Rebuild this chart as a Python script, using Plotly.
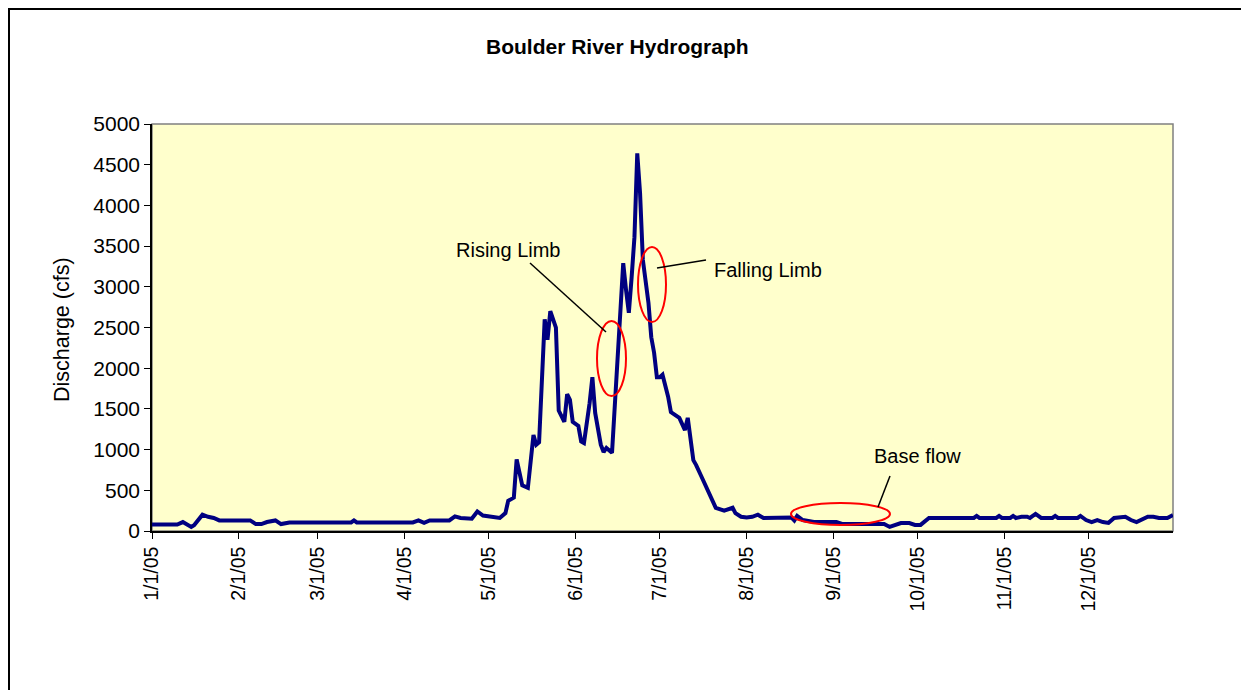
import plotly.graph_objects as go

# ── data ──────────────────────────────────────────────────────────────────────
dates = [
    "2005-01-01", "2005-01-10", "2005-01-12", "2005-01-15", "2005-01-16",
    "2005-01-19", "2005-01-21", "2005-01-23", "2005-01-25", "2005-02-05",
    "2005-02-07", "2005-02-09", "2005-02-11", "2005-02-14", "2005-02-16",
    "2005-02-19", "2005-03-13", "2005-03-14", "2005-03-15", "2005-04-04",
    "2005-04-06", "2005-04-08", "2005-04-10", "2005-04-17", "2005-04-19",
    "2005-04-21", "2005-04-25", "2005-04-27", "2005-04-29", "2005-05-02",
    "2005-05-05", "2005-05-07", "2005-05-08", "2005-05-10", "2005-05-11",
    "2005-05-12", "2005-05-13", "2005-05-15", "2005-05-16", "2005-05-17",
    "2005-05-18", "2005-05-19", "2005-05-21", "2005-05-22", "2005-05-23",
    "2005-05-25", "2005-05-26", "2005-05-28", "2005-05-29", "2005-05-30",
    "2005-05-31", "2005-06-02", "2005-06-03", "2005-06-04", "2005-06-06",
    "2005-06-07", "2005-06-08", "2005-06-10", "2005-06-11", "2005-06-12",
    "2005-06-14", "2005-06-16", "2005-06-18", "2005-06-19", "2005-06-20",
    "2005-06-21", "2005-06-22", "2005-06-23", "2005-06-24", "2005-06-25",
    "2005-06-27", "2005-06-28", "2005-06-29", "2005-06-30", "2005-07-01",
    "2005-07-02", "2005-07-04", "2005-07-05", "2005-07-08", "2005-07-10",
    "2005-07-11", "2005-07-13", "2005-07-14", "2005-07-16", "2005-07-18",
    "2005-07-20", "2005-07-21", "2005-07-24", "2005-07-25", "2005-07-27",
    "2005-07-28", "2005-07-30", "2005-08-01", "2005-08-03", "2005-08-05",
    "2005-08-07", "2005-08-17", "2005-08-18", "2005-08-19", "2005-08-21",
    "2005-08-25", "2005-09-02", "2005-09-04", "2005-09-19", "2005-09-21",
    "2005-09-25", "2005-09-28", "2005-09-30", "2005-10-02", "2005-10-05",
    "2005-10-21", "2005-10-22", "2005-10-23", "2005-10-29", "2005-10-30",
    "2005-10-31", "2005-11-03", "2005-11-04", "2005-11-05", "2005-11-07",
    "2005-11-09", "2005-11-10", "2005-11-12", "2005-11-14", "2005-11-18",
    "2005-11-19", "2005-11-20", "2005-11-27", "2005-11-28", "2005-11-30",
    "2005-12-02", "2005-12-04", "2005-12-06", "2005-12-08", "2005-12-10",
    "2005-12-14", "2005-12-16", "2005-12-18", "2005-12-22", "2005-12-24",
    "2005-12-26", "2005-12-29", "2005-12-31",
]
discharge = [
    80, 80, 110, 50, 70,
    200, 175, 160, 130, 130,
    85, 85, 110, 130, 85,
    105, 105, 130, 105, 105,
    130, 100, 130, 130, 180,
    160, 150, 240, 190, 175,
    160, 220, 370, 410, 880,
    720, 560, 530, 830, 1180,
    1060, 1090, 2600, 2350, 2700,
    2500, 1480, 1340, 1680, 1610,
    1340, 1290, 1100, 1080, 1570,
    1890, 1450, 1060, 970, 1020,
    960, 2060, 3290, 2960, 2680,
    3120, 3610, 4640, 4150, 3330,
    2800, 2380, 2190, 1890, 1890,
    1920, 1650, 1460, 1390, 1240,
    1390, 870, 810, 660, 500,
    360, 285, 250, 260, 285,
    220, 175, 165, 175, 200,
    160, 165, 130, 185, 135,
    110, 110, 86, 86, 50,
    98, 98, 75, 75, 160,
    160, 185, 160, 160, 185,
    160, 160, 185, 160, 175,
    175, 160, 210, 160, 160,
    185, 160, 160, 185, 135,
    110, 135, 110, 100, 160,
    175, 135, 110, 175, 175,
    160, 160, 195,
]
month_ticks = [f"2005-{m:02d}-01" for m in range(1, 13)]
y_ticks = list(range(0, 5001, 500))

FONT = "Liberation Sans, Arial, sans-serif"
OFF = 8                              # page body margin
W, H = 1249 - 2 * OFF, 698 - 2 * OFF
L, R, T, B = 152, 1173, 124, 531     # plot-area box, screen pixels


def px(x):
    return (x - L) / (R - L)


def py(y):
    return (B - y) / (B - T)


fig = go.Figure()
fig.add_trace(go.Scatter(
    x=dates, y=discharge, mode="lines",
    line=dict(color="#000080", width=4),
    showlegend=False,
))

shapes = [
    # chart-area frame
    dict(type="rect", xref="paper", yref="paper",
         x0=px(9), x1=px(1320), y0=py(9), y1=py(760),
         line=dict(color="black", width=2)),
    # plot-area frame (grey)
    dict(type="rect", xref="paper", yref="paper", layer="below",
         x0=0, x1=1, y0=0, y1=1,
         line=dict(color="#808080", width=1.5)),
]
# red ellipses
for x0, x1, y0, y1 in [(597, 626, 321, 396), (638, 666, 247, 322),
                       (791, 890, 503, 525)]:
    shapes.append(dict(type="circle", xref="paper", yref="paper",
                       x0=px(x0), x1=px(x1), y0=py(y1), y1=py(y0),
                       line=dict(color="#ff0000", width=2)))
# callout leader lines
for x0, y0, x1, y1 in [(530, 263, 606, 332), (657, 268, 706, 260),
                       (890, 476, 878, 507)]:
    shapes.append(dict(type="line", xref="paper", yref="paper",
                       x0=px(x0), x1=px(x1), y0=py(y0), y1=py(y1),
                       line=dict(color="black", width=1.5)))

annotations = [
    dict(x=px(617), y=py(47), xref="paper", yref="paper",
         xanchor="center", yanchor="middle",
         text="<b>Boulder River Hydrograph</b>", showarrow=False,
         font=dict(size=21, color="black")),
    dict(x=px(62), y=py(330), xref="paper", yref="paper",
         xanchor="center", yanchor="middle",
         text="Discharge (cfs)", showarrow=False, textangle=-90,
         font=dict(size=21.5, color="black")),
]
for cx, cy, txt in [(508, 250, "Rising Limb"), (768, 270, "Falling Limb"),
                    (917, 456, "Base flow")]:
    annotations.append(dict(x=px(cx), y=py(cy), xref="paper", yref="paper",
                            xanchor="center", yanchor="middle",
                            text=txt, showarrow=False,
                            font=dict(size=20, color="black")))

fig.update_layout(
    width=W, height=H,
    margin=dict(l=L - OFF, r=W - (R - OFF), t=T - OFF, b=H - (B - OFF)),
    paper_bgcolor="white",
    plot_bgcolor="#ffffcc",
    font=dict(family=FONT, size=20, color="black"),
    shapes=shapes,
    annotations=annotations,
    xaxis=dict(
        type="date",
        range=["2005-01-01", "2005-12-31"],
        tickvals=month_ticks,
        tickformat="%-m/%-d/%y",
        tickangle=-90,
        ticks="outside", ticklen=6, tickcolor="black",
        showline=True, linecolor="black", linewidth=1.5,
        showgrid=False, zeroline=False,
        tickfont=dict(size=19.5),
    ),
    yaxis=dict(
        range=[0, 5000],
        tickvals=y_ticks,
        ticks="outside", ticklen=6, tickcolor="black",
        showline=True, linecolor="black", linewidth=1.5,
        showgrid=False, zeroline=False,
        tickfont=dict(size=21),
    ),
)

fig.write_html("out.html")
